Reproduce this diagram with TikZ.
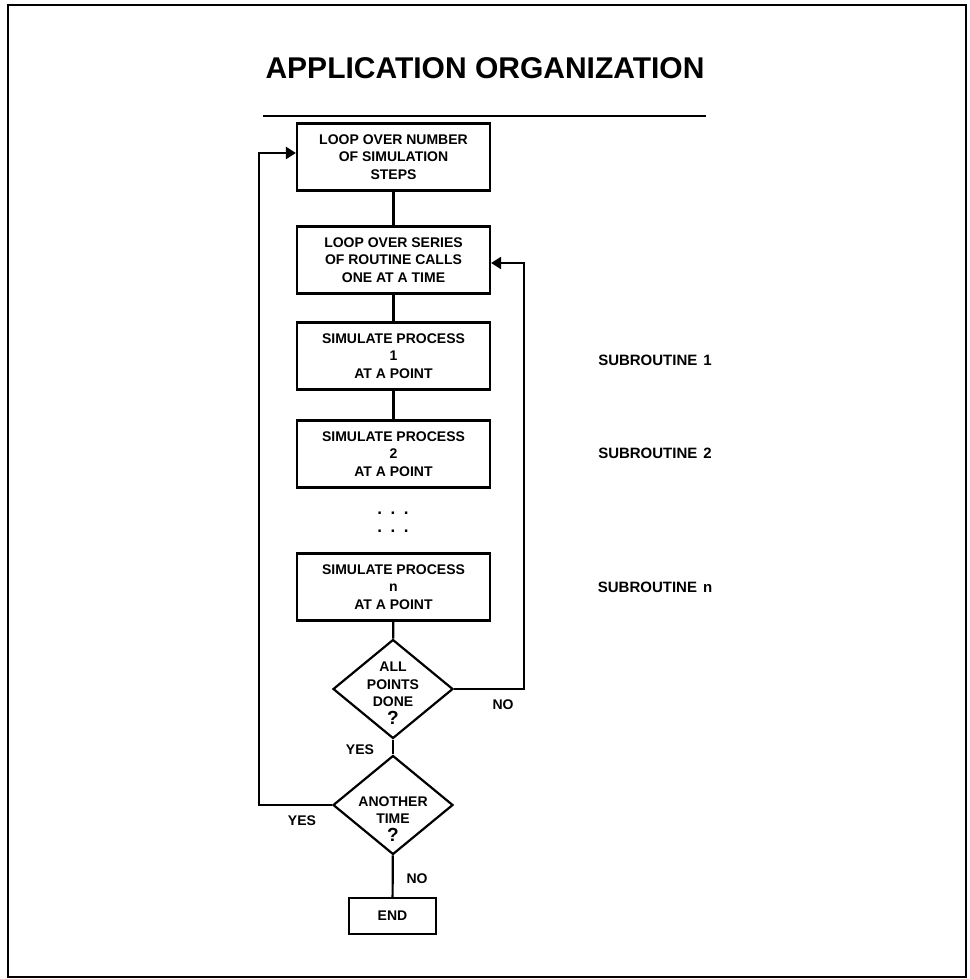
\documentclass[tikz,border=0pt]{standalone}
\usepackage{fontspec}
\setmainfont{Liberation Sans}
\usetikzlibrary{shapes.geometric,arrows.meta}
\tikzset{
  txt/.style={font=\bfseries\fontsize{14}{17.5}\selectfont, align=center, inner sep=0pt},
  procbox/.style={draw, line width=2.2pt, minimum width=193pt, minimum height=67pt, txt},
  decbox/.style={draw, diamond, line width=2.2pt, minimum width=120pt, minimum height=99pt, inner sep=0pt},
  conn/.style={line width=2.2pt},
  arr/.style={line width=2.2pt, -{Triangle[length=10pt,width=12pt]}},
  lbl/.style={txt, font=\bfseries\fontsize{15}{18}\selectfont}
}
\begin{document}
\begin{tikzpicture}[x=1pt,y=-1pt]
\useasboundingbox (0,0) rectangle (969,979);
\draw[line width=2.5pt] (8,5) rectangle (966,977);

\node[font=\bfseries\fontsize{30}{34}\selectfont, inner sep=0pt] (title) at (485,68) {APPLICATION ORGANIZATION};
\draw[line width=2.4pt] (263,116) -- (706,116);

\node[procbox] (b1) at (393.5,157) {LOOP OVER NUMBER\\OF SIMULATION\\STEPS};
\node[procbox] (b2) at (393.5,260) {LOOP OVER SERIES\\OF ROUTINE CALLS\\ONE AT A TIME};
\node[procbox] (b3) at (393.5,356) {SIMULATE PROCESS\\1\\AT A POINT};
\node[procbox] (b4) at (393.5,454) {SIMULATE PROCESS\\2\\AT A POINT};
\node[txt, font=\bfseries\fontsize{17}{18}\selectfont] (dots) at (393,522) {.\hspace{8.5pt}.\hspace{8.5pt}.\\.\hspace{8.5pt}.\hspace{8.5pt}.};
\node[procbox] (b5) at (393.5,587) {SIMULATE PROCESS\\n\\AT A POINT};

\node[decbox] (d1) at (393,689) {};
\node[txt] (d1t) at (393,693) {ALL\\POINTS\\DONE\\{\fontsize{19}{17}\selectfont ?}};
\node[decbox] (d2) at (393,805) {};
\node[txt] (d2t) at (393,819) {ANOTHER\\TIME\\{\fontsize{19}{17}\selectfont ?}};

\node[procbox, minimum width=87pt, minimum height=36pt] (end) at (392.5,916) {END};

\node[lbl] (s1) at (655,360) {SUBROUTINE\hspace{6pt}1};
\node[lbl] (s2) at (655,453) {SUBROUTINE\hspace{6pt}2};
\node[lbl] (sn) at (655,587) {SUBROUTINE\hspace{6pt}n};

\node[txt] (no1) at (503,705) {NO};
\node[txt] (yes1) at (360,750) {YES};
\node[txt] (yes2) at (302,821) {YES};
\node[txt] (no2) at (417,879) {NO};

\coordinate (r1) at (524,689);
\coordinate (r2) at (524,263);
\coordinate (l1) at (259,805);
\coordinate (l2) at (259,153);

\draw[conn] (b1) -- (b2);
\draw[conn] (b2) -- (b3);
\draw[conn] (b3) -- (b4);
\draw[conn] (b5) -- (d1);
\draw[conn] (d1) -- (d2);
\draw[conn] (d2) -- (end);
\draw[arr] (d1.east) -- (r1) -- (r2) -- (b2.east |- r2);
\draw[arr] (d2.west) -- (l1) -- (l2) -- (b1.west |- l2);
\end{tikzpicture}
\end{document}
